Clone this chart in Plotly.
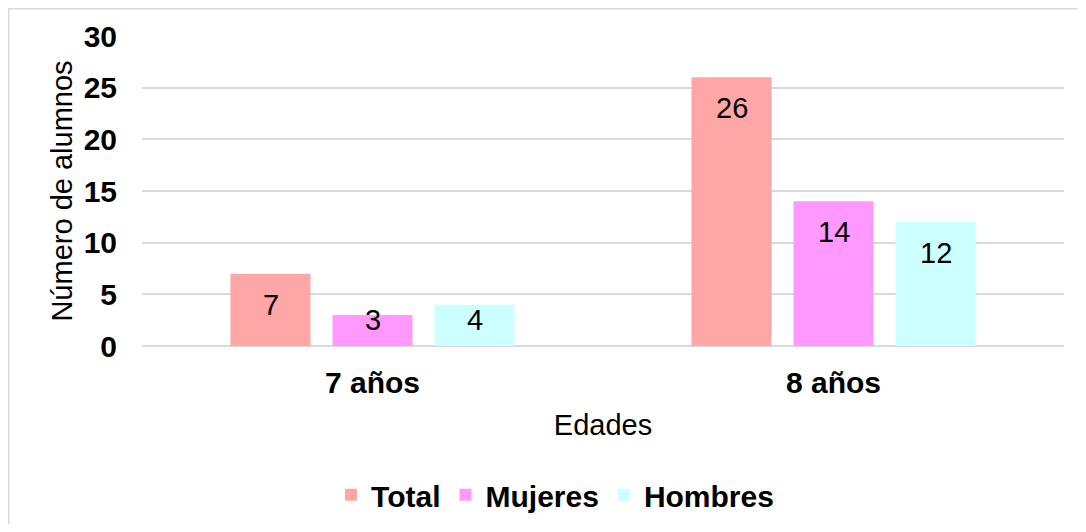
import plotly.graph_objects as go

# data
edades = ['7 años', '8 años']
total = [7, 26]
mujeres = [3, 14]
hombres = [4, 12]

series = [
    ('Total', total, '#FFA7A7'),
    ('Mujeres', mujeres, '#FF99FF'),
    ('Hombres', hombres, '#CCFFFF'),
]

fig = go.Figure()
for name, vals, color in series:
    fig.add_trace(go.Bar(
        x=edades, y=vals, name=name,
        marker=dict(color=color, line=dict(width=0)),
    ))

# data labels sit a fixed distance below the bar tops (like Excel "inside end"),
# short bars get their label pinned just above the axis instead
px_per_unit = 310 / 30
shifts = [-102, 0, 102]
annotations = []
for (name, vals, color), xs in zip(series, shifts):
    for cat, v in zip(edades, vals):
        if v * px_per_unit - 31 > 26:
            ya, ys = v, -31
        else:
            ya, ys = 0, 26
        annotations.append(dict(
            x=cat, y=ya, xref='x', yref='y', text=str(v), showarrow=False,
            xshift=xs, yshift=ys, yanchor='middle',
            font=dict(family='Arial', size=29, color='#000000'),
        ))

# page body has an 8px margin, so the figure is a bit smaller than the window
fig.update_layout(
    barmode='group',
    bargap=0.336,
    bargroupgap=0.216,
    width=1070, height=516,
    margin=dict(l=134, r=14, t=28, b=178, autoexpand=False),
    paper_bgcolor='white',
    plot_bgcolor='white',
    font=dict(family='Arial', color='#000000'),
    annotations=annotations,
    legend=dict(
        orientation='h', x=0.448, xanchor='center', y=-0.48, yanchor='middle',
        font=dict(size=30, family='Arial', weight='bold'),
        traceorder='normal',
    ),
    shapes=[dict(
        type='rect', xref='paper', yref='paper',
        x0=-0.1445, x1=1.2, y0=-0.8, y1=1.088,
        line=dict(color='#D9D9D9', width=1.5), fillcolor='rgba(0,0,0,0)',
        layer='below',
    )],
)

fig.update_xaxes(
    showgrid=False, showline=False, ticks='', automargin=False,
    tickfont=dict(size=30, family='Arial', weight='bold'),
    ticklabelstandoff=16,
    title=dict(text='Edades', font=dict(size=29), standoff=16),
)
fig.update_yaxes(
    range=[0, 30], dtick=5, automargin=False,
    showgrid=True, gridcolor='#D9D9D9', gridwidth=1.5,
    zeroline=True, zerolinecolor='#D9D9D9', zerolinewidth=1.5,
    tickfont=dict(size=30, family='Arial', weight='bold'),
    ticklabelstandoff=24,
    title=dict(text='Número de alumnos', font=dict(size=29), standoff=2),
)

fig.write_html('out.html')
